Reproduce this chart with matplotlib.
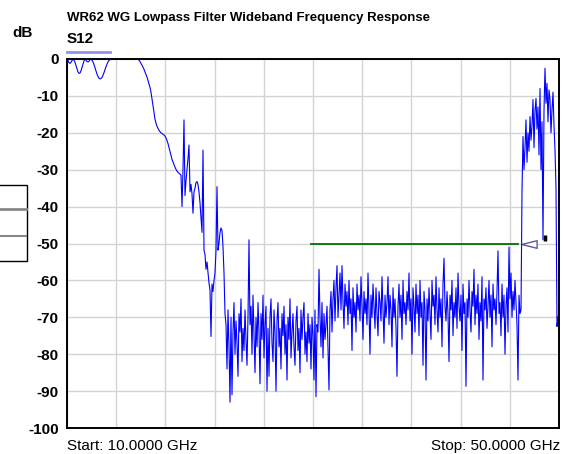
import matplotlib
matplotlib.use("Agg")
import matplotlib.pyplot as plt
from matplotlib.patches import Rectangle
from matplotlib.lines import Line2D
import numpy as np

plt.rcParams['font.family'] = ['Liberation Sans', 'DejaVu Sans']
plt.rcParams['axes.unicode_minus'] = False

# Sweep settings of the analyser
start_ghz = 10.0
stop_ghz = 50.0

# S12 trace in dB, one value per pixel column
s12_db = [
    # passband ripple
    0, -0.4, -1.0, -1.2, -0.9, -0.4, -0.1, -0.3, -0.9, -1.8,
    -2.8, -3.5, -3.9, -3.8, -3.2, -2.3, -1.3, -0.5, -0.1, -0.3,
    -0.7, -0.8, -0.6, -0.2, -0.1, -0.3, -0.8, -1.5, -2.4, -3.3,
    -4.1, -4.7, -5.2, -5.4, -5.3, -5.0, -4.4, -3.7, -2.9, -2.1,
    -1.4, -0.8, -0.4, -0.2, -0.1, 0, 0, 0, 0, 0,
    0, 0, 0, 0, 0, 0, 0, 0, 0, 0,
    0, 0, 0, 0, 0, 0, 0, 0, 0, 0,
    0,
    # roll-off
    -0.1, -0.3, -0.7, -1.2, -1.7, -2.2, -2.8, -3.5, -4.2, -4.9,
    -5.8, -6.7, -7.7, -9.0, -10.8, -12.5, -14.5, -16.3, -17.4, -18.2,
    -18.8, -19.3, -19.7, -20.0, -20.2, -20.4, -20.6, -20.9, -21.4, -22.1,
    -22.9, -24.0, -25.2, -26.3, -27.2, -27.9, -28.6, -29.3, -29.9, -30.4,
    -30.7, -31.0, -31.2,
    # transition with spikes
    -31.5, -40, -30, -16.5, -37, -33, -30, -27, -23.3, -36,
    -34, -36.5, -41.8, -36, -35, -33.5, -33.2, -34, -36, -39,
    -43, -47, -24.7, -51.8, -53, -57, -55, -58, -60.7, -62.6,
    -75.2, -61, -63, -60, -58, -52, -34.6, -51.8, -50, -47,
    -45.8, -46.5, -50.9, -58, -69,
    # stopband noise floor
    -72, -84, -68, -78, -93, -70, -91, -74, -66, -80,
    -71, -77, -86, -69, -74, -65, -82, -73, -79, -68,
    -76, -83, -70, -49, -72, -67, -80, -64, -75, -85,
    -70, -78, -66, -74, -88, -69, -76, -64, -81, -72,
    -67, -90, -73, -86, -70, -65, -77, -82, -68, -74,
    -90, -71, -66, -78, -73, -84, -69, -75, -67, -80,
    -72, -87, -70, -76, -65, -81, -74, -69, -78, -83,
    -71, -67, -79, -73, -85, -68, -76, -70, -66, -80,
    -74, -82, -69, -77, -72, -84, -70, -75, -87, -68,
    -91.5, -72, -74, -57, -70, -78, -66, -81, -69, -76,
    -72, -67, -79, -89.7, -68, -63, -74, -65, -60, -71,
    -62, -56, -70, -64, -58, -68, -56, -66, -73, -61,
    -67, -63, -72, -60, -69, -65, -79, -62, -70, -66,
    -74, -61, -68, -64, -71, -59, -67, -76, -63, -69,
    -65, -72, -58, -68, -80, -64, -70, -61, -67, -73,
    -62, -69, -75, -63, -66, -71, -59, -68, -77, -64,
    -70, -66, -59, -72, -64, -68, -78, -62, -70, -65,
    -73, -86, -67, -61, -70, -64, -76, -60, -69, -66,
    -72, -63, -68, -58, -71, -65, -80, -62, -67, -74,
    -61, -69, -64, -75, -60, -70, -66, -83, -63, -68,
    -87, -65, -71, -62, -69, -76, -60, -67, -64, -72,
    -59, -68, -74, -62, -70, -65, -78, -61, -54, -67,
    -71, -63, -69, -82, -64, -68, -60, -75, -66, -70,
    -62, -73, -58, -67, -71, -64, -79, -61, -69, -66,
    -88.7, -65, -70, -60, -68, -74, -63, -67, -57, -72,
    -64, -69, -61, -76, -66, -71, -59, -87, -65, -68,
    -62, -73, -67, -60, -70, -64, -78, -61, -68, -65,
    -72, -63, -52, -69, -66, -75, -61, -70, -64, -80,
    -67, -62, -74, -51, -65, -58, -70, -63, -68, -60,
    # upper spurious passband
    -66, -72, -87, -64, -69, -68, -36, -21, -30, -24,
    -16.5, -28, -20, -25, -15.6, -22, -18, -11, -24, -14,
    -10.7, -19, -13, -26, -8, -30, -17, -49, -14, -2.5,
    -12, -6.6, -17, -8.4, -11, -20, -13.8, -9, -18, -24.7,
    -35, -72.5, -70, -69,
]
freq_ghz = np.linspace(start_ghz, stop_ghz, len(s12_db))

# limit line and markers
limit_db = -50
limit_start_ghz = 29.8
limit_stop_ghz = 46.7
limit_marker_ghz = 47.6
marker1_ghz = 48.86
marker1_db = -48.5

y_ticks = [0, -10, -20, -30, -40, -50, -60, -70, -80, -90, -100]
y_labels = ["0", "-10", "-20", "-30", "-40", "-50", "-60", "-70", "-80", "-90", "-100"]

W, H = 563, 454
fig = plt.figure(figsize=(W / 100, H / 100), dpi=100)
ax = fig.add_axes([67 / W, 1 - 428 / H, (559 - 67) / W, (428 - 59) / H])

ax.plot(freq_ghz, s12_db, color="#0000ff", lw=0.8)
ax.plot([limit_start_ghz, limit_stop_ghz], [limit_db, limit_db], color="#007000", lw=1.3)

tri = [(-1, 0), (1, 0.5), (1, -0.5), (-1, 0)]
ax.plot([limit_marker_ghz], [limit_db], marker=tri, ms=11, mfc="white",
        mec="#5a5a9a", mew=1, ls="none")
ax.plot([marker1_ghz], [marker1_db], marker="|", ms=5, mew=2.5, color="black", ls="none")

ax.set_xlim(start_ghz, stop_ghz)
ax.set_ylim(-100, 0)
ax.set_xticks(np.linspace(start_ghz, stop_ghz, 11))
ax.set_xticklabels([])
ax.set_yticks(y_ticks)
ax.set_yticklabels(y_labels, fontsize=11, fontweight="bold")
ax.tick_params(length=0, pad=6)
ax.grid(True, color="#d3d3d3", lw=1)
ax.set_axisbelow(True)
for s in ax.spines.values():
    s.set_linewidth(1.4)
    s.set_color("black")

# header texts
fig.text(67 / W, 1 - 18 / H, "WR62 WG Lowpass Filter Wideband Frequency Response",
         fontsize=9.5, fontweight="bold", va="center", ha="left")
fig.text(67 / W, 1 - 39 / H, "S12", fontsize=11, fontweight="bold", va="center", ha="left")
fig.text(12 / W, 1 - 33 / H, "dB", fontsize=11, fontweight="bold", va="center", ha="left")
fig.add_artist(Line2D([67 / W, 110 / W], [1 - 52 / H, 1 - 52 / H], color="#9090f0", lw=2))

fig.text(67 / W, 1 - 446 / H, "Start: 10.0000 GHz", fontsize=11, va="center", ha="left")
fig.text(560 / W, 1 - 446 / H, "Stop: 50.0000 GHz", fontsize=11, va="center", ha="right")

# clipped table on the left edge
fig.add_artist(Rectangle((-5 / W, 1 - 261 / H), 32 / W, (261 - 184.5) / H,
                         transform=fig.transFigure, fill=False, ec="black", lw=1))
fig.add_artist(Line2D([0, 26 / W], [1 - 209 / H] * 2, color="#888888", lw=2))
fig.add_artist(Line2D([0, 26 / W], [1 - 235.7 / H] * 2, color="#888888", lw=1.5))

plt.savefig("out.png", dpi=100)
